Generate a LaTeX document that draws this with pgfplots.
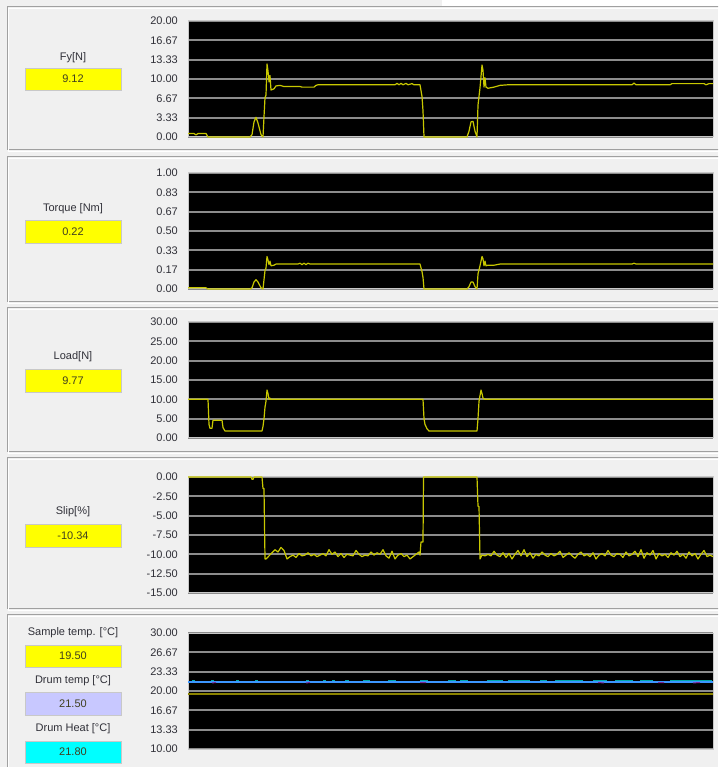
\documentclass[border=0pt]{standalone}
\usepackage{fontspec}
\setmainfont{Liberation Sans}
\usepackage{pgfplots}
\pgfplotsset{compat=1.18}

\definecolor{panelbg}{HTML}{F0F0F0}
\definecolor{etch}{HTML}{A0A0A0}
\definecolor{gridgray}{HTML}{8C8C8C}
\definecolor{framegray}{HTML}{C8C8C8}
\definecolor{ticktext}{HTML}{303038}
\definecolor{trace}{HTML}{C8C800}
\definecolor{sampleolive}{HTML}{8C8400}
\definecolor{drumblue}{HTML}{3C96FF}
\definecolor{heatteal}{HTML}{00A8A8}
\definecolor{flecks}{HTML}{7A2A9A}
\definecolor{boxyellow}{HTML}{FFFF00}
\definecolor{boxlav}{HTML}{C8C8FF}
\definecolor{boxcyan}{HTML}{00FFFF}
\definecolor{valtext}{HTML}{404020}

\newcommand{\uifont}{\fontsize{11}{13}\selectfont}

\pgfplotsset{
  monitor/.style={
    scale only axis, width=525pt, height=116pt, clip=false,
    xmin=0, xmax=525, xtick=\empty,
    axis background/.style={fill=black},
    axis line style={draw=framegray, line width=1pt},
    ymajorgrids, grid style={draw=gridgray, line width=1.8pt},
    tick style={draw=none},
    yticklabel style={font=\uifont, text=ticktext, inner sep=0pt, xshift=-10pt},
    every axis plot/.append style={line width=1.2pt, line join=round},
  }
}

% value box: y0 (bottom) y1 (top) colour text
\newcommand{\valbox}[4]{%
  \fill[#3, draw=framegray, line width=0.6pt] (25,#1) rectangle (121,#2);
  \node[text=valtext, font=\uifont] at (73,{(#1+#2)/2}) {#4};}

\begin{document}
\begin{tikzpicture}[x=1pt, y=1pt]
\clip (0,0) rectangle (718,767);
\fill[panelbg] (0,0) rectangle (718,767);
\fill[white] (442,761) rectangle (718,767);

% etched group frames (top, bottom in y up)
\foreach \t/\b in {760/617, 610/465, 459/315, 309/158, 152/-5}{
  \draw[etch, line width=1pt] (7,\t) rectangle (740,\b);
  \draw[white, line width=1pt] (8.5,\t-1.5) rectangle (741,\b-1.5);
}

% labels and value boxes
\node[text=ticktext, font=\uifont] at (73,709) {Fy[N]};
\valbox{677}{699}{boxyellow}{9.12}
\node[text=ticktext, font=\uifont] at (73,558) {Torque [Nm]};
\valbox{524}{547}{boxyellow}{0.22}
\node[text=ticktext, font=\uifont] at (73,410) {Load[N]};
\valbox{375}{398}{boxyellow}{9.77}
\node[text=ticktext, font=\uifont] at (73,255) {Slip[\%]};
\valbox{220}{243}{boxyellow}{-10.34}
\node[text=ticktext, font=\uifont] at (73,134) {Sample temp. [°C]};
\valbox{100}{122}{boxyellow}{19.50}
\node[text=ticktext, font=\uifont] at (73,86) {Drum temp [°C]};
\valbox{52}{75}{boxlav}{21.50}
\node[text=ticktext, font=\uifont] at (73,38) {Drum Heat [°C]};
\valbox{4}{26}{boxcyan}{21.80}

% Fy
\begin{axis}[monitor, at={(188pt,630pt)}, anchor=south west,
  ymin=0, ymax=20,
  ytick={0,3.33333,6.66667,10,13.33333,16.66667,20},
  yticklabels={0.00,3.33,6.67,10.00,13.33,16.67,20.00}]
\addplot[trace] coordinates {
(0,0.6)(6,0.6)(8,0.35)(10,0.6)(18,0.6)(20,0)(62,0)(64,0.4)(66,2.6)(68,3.4)
(70,2.4)(73,0.4)(75,0)(76,3.5)(77,6.8)(78,7.2)(79,12.6)(80,11.4)(81,9.5)(82,10.6)
(83,8.1)(86,8.3)(88,8.8)(92,8.9)(96,8.7)(112,8.7)(114,8.6)(126,8.6)(128,8.9)(130,9.0)
(207,9.0)(209,9.25)(211,9.0)(213,9.25)(215,9.0)(218,9.25)(220,9.0)(224,9.2)(226,9.0)
(232,9.0)(234,7.0)(235,4.5)(236,0)(279,0)(281,1.0)(283,2.6)(285,2.7)(287,1.0)(289,0)
(290,5.5)(292,8.5)(294,12.4)(295,11.5)(296,8.6)(297,10.2)(298,8.6)(300,8.4)(306,8.6)
(312,8.9)(320,9.0)(444,9.0)(446,9.3)(448,9.0)(482,9.0)(484,9.2)(516,9.2)(518,9.0)
(521,9.2)(525,9.2)};
\end{axis}

% Torque
\begin{axis}[monitor, at={(188pt,478pt)}, anchor=south west,
  ymin=0, ymax=1,
  ytick={0,0.166667,0.333333,0.5,0.666667,0.833333,1},
  yticklabels={0.00,0.17,0.33,0.50,0.67,0.83,1.00}]
\addplot[trace] coordinates {
(0,0.01)(18,0.01)(20,0)(62,0)(64,0.01)(66,0.06)(68,0.08)(70,0.06)(73,0.01)(75,0)
(76,0.08)(77,0.16)(78,0.18)(79,0.28)(80,0.25)(81,0.21)(82,0.24)(83,0.2)(86,0.205)
(88,0.215)(110,0.215)(112,0.222)(114,0.21)(116,0.222)(118,0.21)(120,0.222)(122,0.215)
(232,0.215)(234,0.15)(235,0.1)(236,0)(279,0)(281,0.02)(283,0.06)(285,0.06)(287,0.02)
(289,0)(290,0.13)(292,0.2)(294,0.28)(295,0.26)(296,0.2)(297,0.24)(298,0.2)(300,0.205)
(306,0.205)(312,0.215)(444,0.215)(446,0.222)(448,0.215)(525,0.215)};
\end{axis}

% Load
\begin{axis}[monitor, at={(188pt,329pt)}, anchor=south west,
  ymin=0, ymax=30, ytick={0,5,...,30},
  yticklabels={0.00,5.00,10.00,15.00,20.00,25.00,30.00}]
\addplot[trace] coordinates {
(0,10)(20,10)(21,3.5)(22,2.5)(24,2.5)(25,4.6)(34,4.6)(35,2.7)(37,1.8)(74,1.8)
(75,3)(76,5)(77,8)(78,9.5)(79,12.4)(80,11.5)(81,10)(82,10.3)(83,10)(235,10)
(236,5)(237,3.5)(239,2.4)(241,1.8)(289,1.8)(290,5)(291,9.5)(293,12.4)(294,11.5)
(295,10.3)(297,10)(525,10)};
\end{axis}

% Slip
\begin{axis}[monitor, at={(188pt,174pt)}, anchor=south west,
  ymin=-15, ymax=0, ytick={-15,-12.5,...,0},
  yticklabels={-15.00,-12.50,-10.00,-7.50,-5.00,-2.50,0.00}]
\addplot[trace] coordinates {
(0,0)(63,0)(64,-0.3)(65,-0.3)(66,0)(74,0)(75,-1.5)(76,-1.5)(77,-10.6)
(78,-10.6)(81,-10.2)(84,-9.8)(87,-9.4)(90,-9.7)(93,-9.1)(96,-9.5)(99,-10.6)(102,-10.3)
(105,-10.1)(108,-10.4)(111,-9.9)(114,-10.2)(117,-10.1)(120,-9.8)(123,-10.2)(126,-10.0)
(129,-10.3)(132,-10.1)(135,-9.9)(138,-10.2)(141,-9.4)(144,-10.0)(147,-9.7)(150,-10.3)
(153,-9.9)(156,-10.4)(159,-10.0)(162,-10.1)(165,-10.2)(168,-9.5)(171,-10.0)(174,-10.3)
(177,-10.1)(180,-10.2)(183,-9.7)(186,-10.1)(189,-9.8)(192,-10.0)(195,-9.4)(198,-10.2)
(201,-10.5)(204,-9.6)(207,-10.6)(210,-10.1)(213,-9.9)(216,-10.3)(219,-10.1)(222,-10.6)
(225,-10.3)(228,-10.0)(231,-9.7)(232,-10.1)(233,-8.4)(235,-8.4)(235.5,0)(289,0)
(290,-3.8)(291,-3.8)(292,-10.6)(294,-10.1)(297,-10.2)(300,-10.0)(303,-10.2)(306,-9.6)
(309,-10.1)(312,-10.3)(315,-9.8)(318,-10.4)(321,-9.9)(324,-10.6)(327,-10.0)(330,-9.5)
(333,-10.2)(336,-9.4)(339,-10.3)(342,-9.8)(345,-10.5)(348,-10.0)(351,-10.2)(354,-9.7)
(357,-10.1)(360,-10.3)(363,-9.9)(366,-10.2)(369,-10.0)(372,-9.6)(375,-10.4)(378,-10.1)
(381,-9.8)(384,-10.2)(387,-10.5)(390,-10.0)(393,-9.7)(396,-10.2)(399,-10.0)(402,-10.3)
(405,-9.8)(408,-10.6)(411,-10.1)(414,-9.9)(417,-10.2)(420,-9.5)(423,-10.1)(426,-10.3)
(429,-9.9)(432,-10.0)(435,-10.4)(438,-9.7)(441,-10.2)(444,-10.0)(447,-9.6)(450,-10.3)
(453,-9.4)(456,-10.5)(459,-9.8)(462,-10.1)(465,-9.5)(468,-10.6)(471,-9.9)(474,-10.2)
(477,-10.0)(480,-10.4)(483,-9.8)(486,-10.1)(489,-9.6)(492,-10.3)(495,-10.0)(498,-10.5)
(501,-9.7)(504,-10.2)(507,-9.9)(510,-10.6)(513,-10.0)(516,-9.5)(519,-10.3)(522,-10.1)
(525,-10.3)};
\end{axis}

% Temperatures
\begin{axis}[monitor, at={(188pt,18pt)}, anchor=south west,
  ymin=10, ymax=30, unbounded coords=jump,
  ytick={10,13.33333,16.66667,20,23.33333,26.66667,30},
  yticklabels={10.00,13.33,16.67,20.00,23.33,26.67,30.00}]
\addplot[sampleolive, line width=2pt] coordinates {(0,19.55)(525,19.55)};
\addplot[drumblue] coordinates {(0,21.55)(525,21.55)};
\addplot[heatteal, line width=1.2pt] coordinates {
(4,21.85)(7,21.85)(8,nan)(23,21.85)(26,21.85)(27,nan)(48,21.85)(51,21.85)(52,nan)
(67,21.85)(70,21.85)(71,nan)(118,21.85)(121,21.85)(122,nan)(135,21.85)(138,21.85)(139,nan)
(144,21.85)(147,21.85)(148,nan)(157,21.85)(161,21.85)(162,nan)(175,21.85)(182,21.85)(183,nan)
(200,21.85)(208,21.85)(209,nan)(232,21.85)(240,21.85)(241,nan)(260,21.85)(268,21.85)(269,nan)
(272,21.85)(280,21.85)(281,nan)(299,21.85)(315,21.85)(316,nan)(320,21.85)(342,21.85)(343,nan)
(352,21.85)(359,21.85)(360,nan)(367,21.85)(395,21.85)(396,nan)(405,21.85)(419,21.85)(420,nan)
(427,21.85)(445,21.85)(446,nan)(452,21.85)(465,21.85)(466,nan)(482,21.85)(524,21.85)};
\addplot[flecks, line width=1pt] coordinates {
(24,21.4)(28,21.45)(29,nan)(118,21.4)(122,21.45)(123,nan)(232,21.45)(238,21.45)(239,nan)
(410,21.45)(416,21.4)(417,nan)(470,21.45)(476,21.45)(477,nan)(505,21.4)(512,21.45)};
\end{axis}
\end{tikzpicture}
\end{document}
